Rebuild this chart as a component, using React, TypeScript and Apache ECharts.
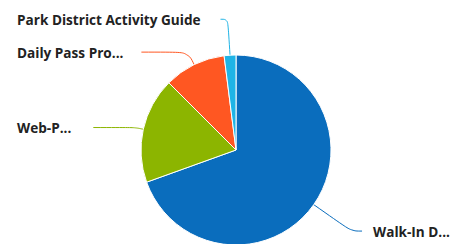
import React, { useEffect, useRef } from "react";
import * as echarts from "echarts";

const categories = ["Walk-In D...", "Web-P...", "Daily Pass Pro...", "Park District Activity Guide"];
const values = [69.5, 18, 10.5, 2];
const colors = ["#0a6dbd", "#8cb500", "#ff5722", "#1fb4e6"];
const lineLengths = [46, 8, 14, 36];
const lineLengths2 = [6, 20, 20, 6];
const labelGaps = [11, 22, 18, 20];

export default function App() {
  const ref = useRef<HTMLDivElement>(null);
  useEffect(() => {
    if (!ref.current) return;
    const chart = echarts.init(ref.current, undefined, { renderer: "svg" });
    chart.setOption({
      animation: false,
      backgroundColor: "#ffffff",
      series: [
        {
          type: "pie",
          center: [236, 150],
          radius: 95,
          startAngle: 90,
          clockwise: true,
          avoidLabelOverlap: true,
          itemStyle: { borderColor: "#ffffff", borderWidth: 1 },
          label: {
            show: true,
            position: "outside",
            alignTo: "edge",
            edgeDistance: 17,
            distanceToLabelLine: 14,
            color: "#222222",
            fontFamily: "Open Sans",
            fontWeight: "bold",
            fontSize: 13.6,
          },
          labelLine: { show: true, smooth: 0.4, lineStyle: { width: 1 } },
          data: categories.map((name, i) => ({
            name,
            value: values[i],
            itemStyle: { color: colors[i] },
            label: { distanceToLabelLine: labelGaps[i] },
            labelLine: { length: lineLengths[i], length2: lineLengths2[i] },
          })),
        },
      ],
    });
    return () => chart.dispose();
  }, []);
  return <div ref={ref} style={{ position: "fixed", left: 0, top: 0, width: 467, height: 244 }} />;
}
